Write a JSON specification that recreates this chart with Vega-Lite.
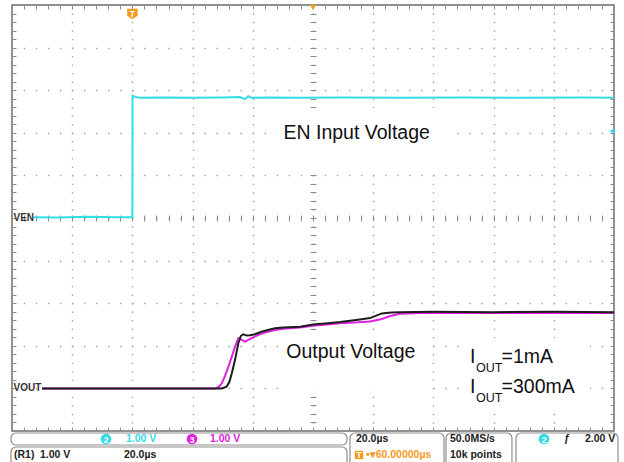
{
  "$schema": "https://vega.github.io/schema/vega-lite/v6.json",
  "width": 602,
  "height": 426,
  "autosize": "none",
  "padding": {"left": 12, "top": 5, "right": 10, "bottom": 31},
  "background": "white",
  "config": {
    "view": {"stroke": "#6e6e6e", "strokeWidth": 1.5},
    "axis": {"labels": false, "title": null, "domain": false, "ticks": false, "grid": false},
    "text": {"font": "Liberation Sans"}
  },
  "datasets": {
    "trace": [
      {"ch": "CH2", "t": -32.9, "v": 0.02}, {"ch": "CH2", "t": -25, "v": 0.01}, {"ch": "CH2", "t": -15, "v": 0.03},
      {"ch": "CH2", "t": -5, "v": 0.02}, {"ch": "CH2", "t": 0, "v": 0.02}, {"ch": "CH2", "t": 0.05, "v": 2.87},
      {"ch": "CH2", "t": 1, "v": 2.84}, {"ch": "CH2", "t": 3, "v": 2.82}, {"ch": "CH2", "t": 10, "v": 2.83},
      {"ch": "CH2", "t": 20, "v": 2.82}, {"ch": "CH2", "t": 30, "v": 2.83}, {"ch": "CH2", "t": 35.7, "v": 2.84},
      {"ch": "CH2", "t": 37.4, "v": 2.79}, {"ch": "CH2", "t": 38.5, "v": 2.86}, {"ch": "CH2", "t": 39.6, "v": 2.82},
      {"ch": "CH2", "t": 45, "v": 2.83}, {"ch": "CH2", "t": 55, "v": 2.82}, {"ch": "CH2", "t": 70, "v": 2.83},
      {"ch": "CH2", "t": 90, "v": 2.82}, {"ch": "CH2", "t": 110, "v": 2.83}, {"ch": "CH2", "t": 130, "v": 2.82},
      {"ch": "CH2", "t": 150, "v": 2.83}, {"ch": "CH2", "t": 160, "v": 2.82},

      {"ch": "CH3", "t": -30, "v": 0.0}, {"ch": "CH3", "t": -10, "v": 0.0}, {"ch": "CH3", "t": 10, "v": 0.0},
      {"ch": "CH3", "t": 27.5, "v": 0.0}, {"ch": "CH3", "t": 28.8, "v": 0.04}, {"ch": "CH3", "t": 29.7, "v": 0.12},
      {"ch": "CH3", "t": 30.8, "v": 0.3}, {"ch": "CH3", "t": 31.9, "v": 0.51}, {"ch": "CH3", "t": 33.0, "v": 0.74},
      {"ch": "CH3", "t": 34.1, "v": 0.98}, {"ch": "CH3", "t": 35.2, "v": 1.18}, {"ch": "CH3", "t": 36.3, "v": 1.14},
      {"ch": "CH3", "t": 37.4, "v": 1.10}, {"ch": "CH3", "t": 38.5, "v": 1.14}, {"ch": "CH3", "t": 39.6, "v": 1.18},
      {"ch": "CH3", "t": 41.7, "v": 1.25}, {"ch": "CH3", "t": 44, "v": 1.31}, {"ch": "CH3", "t": 47.4, "v": 1.37},
      {"ch": "CH3", "t": 50, "v": 1.40}, {"ch": "CH3", "t": 55.7, "v": 1.43}, {"ch": "CH3", "t": 60, "v": 1.47},
      {"ch": "CH3", "t": 69, "v": 1.53}, {"ch": "CH3", "t": 75, "v": 1.55}, {"ch": "CH3", "t": 78.9, "v": 1.57},
      {"ch": "CH3", "t": 82.9, "v": 1.63}, {"ch": "CH3", "t": 85.6, "v": 1.70}, {"ch": "CH3", "t": 88.9, "v": 1.75},
      {"ch": "CH3", "t": 95, "v": 1.77}, {"ch": "CH3", "t": 110, "v": 1.77}, {"ch": "CH3", "t": 130, "v": 1.77},
      {"ch": "CH3", "t": 160, "v": 1.77},

      {"ch": "R1", "t": -30, "v": 0.0}, {"ch": "R1", "t": -10, "v": 0.0}, {"ch": "R1", "t": 10, "v": 0.0},
      {"ch": "R1", "t": 29.7, "v": 0.0}, {"ch": "R1", "t": 31.3, "v": 0.04}, {"ch": "R1", "t": 32.2, "v": 0.15},
      {"ch": "R1", "t": 33.0, "v": 0.35}, {"ch": "R1", "t": 34.1, "v": 0.67}, {"ch": "R1", "t": 35.2, "v": 1.06},
      {"ch": "R1", "t": 36.0, "v": 1.23}, {"ch": "R1", "t": 36.8, "v": 1.27}, {"ch": "R1", "t": 38.0, "v": 1.24},
      {"ch": "R1", "t": 39.1, "v": 1.25}, {"ch": "R1", "t": 40.7, "v": 1.27}, {"ch": "R1", "t": 42.9, "v": 1.33},
      {"ch": "R1", "t": 45, "v": 1.37}, {"ch": "R1", "t": 47.4, "v": 1.41}, {"ch": "R1", "t": 50, "v": 1.43},
      {"ch": "R1", "t": 55.7, "v": 1.45}, {"ch": "R1", "t": 60, "v": 1.50}, {"ch": "R1", "t": 65, "v": 1.53},
      {"ch": "R1", "t": 69, "v": 1.56}, {"ch": "R1", "t": 75.6, "v": 1.62}, {"ch": "R1", "t": 78.9, "v": 1.65},
      {"ch": "R1", "t": 82.9, "v": 1.76}, {"ch": "R1", "t": 86, "v": 1.78}, {"ch": "R1", "t": 88.9, "v": 1.79},
      {"ch": "R1", "t": 100, "v": 1.80}, {"ch": "R1", "t": 120, "v": 1.79}, {"ch": "R1", "t": 140, "v": 1.80},
      {"ch": "R1", "t": 160, "v": 1.79}
    ],
    "ann": [
      {"t": 50.2, "d": 1.866, "txt": "EN Input Voltage", "kind": "main"},
      {"t": 51.13, "d": -3.293, "txt": "Output Voltage", "kind": "main"},
      {"t": 112.16, "d": -3.411, "txt": "I", "kind": "main"},
      {"t": 114.15, "d": -3.608, "txt": "OUT", "kind": "sub"},
      {"t": 122.66, "d": -3.411, "txt": "=1mA", "kind": "main"},
      {"t": 112.16, "d": -4.115, "txt": "I", "kind": "main"},
      {"t": 114.15, "d": -4.312, "txt": "OUT", "kind": "sub"},
      {"t": 122.66, "d": -4.115, "txt": "=300mA", "kind": "main"},
      {"t": -40, "d": 0.0, "txt": "VEN", "kind": "lab"},
      {"t": -40, "d": -4.0, "txt": "VOUT", "kind": "lab"}
    ],
    "annbg": [
      {"t": 48.04, "t2": 106.18, "d": 2.58, "d2": 1.08},
      {"t": 49.04, "t2": 98.87, "d": -2.63, "d2": -4.03},
      {"t": 110.83, "t2": 152.03, "d": -2.82, "d2": -4.5}
    ],
    "mk": [
      {"t": 0, "d": 4.79, "ch": "TRIG", "kind": "trig", "txt": "T"},
      {"t": 60, "d": 4.94, "ch": "TRIG", "kind": "exp", "txt": ""},
      {"t": 159.3, "d": 2.04, "ch": "CH2", "kind": "lvl", "txt": ""},
      {"t": -8.77, "d": -5.188, "ch": "CH2", "kind": "badge", "txt": "2"},
      {"t": 19.8, "d": -5.188, "ch": "CH3", "kind": "badge", "txt": "3"},
      {"t": 136.75, "d": -5.188, "ch": "CH2", "kind": "badge", "txt": "2"},
      {"t": 75.28, "d": -5.563, "ch": "TRIG", "kind": "sq", "txt": "T"}
    ],
    "stat": [
      {"t": -2.13, "d": -5.188, "txt": "1.00 V", "ch": "CH2"},
      {"t": 25.78, "d": -5.188, "txt": "1.00 V", "ch": "CH3"},
      {"t": -39.34, "d": -5.563, "txt": "(R1)", "ch": "TXT"},
      {"t": -30.7, "d": -5.563, "txt": "1.00 V", "ch": "TXT"},
      {"t": -2.79, "d": -5.563, "txt": "20.0µs", "ch": "TXT"},
      {"t": 74.29, "d": -5.188, "txt": "20.0µs", "ch": "TXT"},
      {"t": 77.6, "d": -5.563, "txt": "•▾60.00000µs", "ch": "TRIG"},
      {"t": 105.52, "d": -5.188, "txt": "50.0MS/s", "ch": "TXT"},
      {"t": 105.52, "d": -5.563, "txt": "10k points", "ch": "TXT"},
      {"t": 143.39, "d": -5.188, "txt": "ƒ", "ch": "TXT"},
      {"t": 150.37, "d": -5.188, "txt": "2.00 V", "ch": "TXT"}
    ],
    "box": [
      {"t": -40.33, "t2": 71.3, "d": -5.047, "d2": -5.329},
      {"t": -40.33, "t2": 71.3, "d": -5.376, "d2": -5.95},
      {"t": 72.29, "t2": 103.52, "d": -5.047, "d2": -5.95},
      {"t": 104.19, "t2": 126.1, "d": -5.047, "d2": -5.95},
      {"t": 127.44, "t2": 161.33, "d": -5.047, "d2": -5.95}
    ]
  },
  "resolve": {"scale": {"y": "independent"}, "axis": {"x": "independent", "y": "independent"}},
  "layer": [
    {
      "data": {"values": [{}]},
      "mark": {"type": "point", "opacity": 0},
      "encoding": {
        "x": {"datum": 0, "type": "quantitative", "scale": {"domain": [-40, 160], "nice": false, "zero": false},
          "axis": {"values": [-20, 0, 20, 40, 60, 80, 100, 120, 140], "grid": true, "gridColor": "#a3a3a3", "gridWidth": 1.4, "gridDash": [1.4, 7.12], "gridDashOffset": 0.7, "labels": false, "ticks": false, "domain": false, "title": null}},
        "y": {"datum": 0, "type": "quantitative", "scale": {"domain": [-5, 5], "nice": false, "zero": false},
          "axis": {"values": [-4, -3, -2, -1, 0, 1, 2, 3, 4], "grid": true, "gridColor": "#a3a3a3", "gridWidth": 1.4, "gridDash": [1.4, 10.64], "gridDashOffset": 0.7, "labels": false, "ticks": false, "domain": false, "title": null}}
      }
    },
    {
      "data": {"values": [{}]},
      "mark": {"type": "point", "opacity": 0},
      "encoding": {
        "x": {"datum": 0, "type": "quantitative", "scale": {"domain": [-40, 160], "nice": false, "zero": false},
          "axis": {"orient": "bottom", "offset": -4, "values": [-36,-32,-28,-24,-20,-16,-12,-8,-4,0,4,8,12,16,20,24,28,32,36,40,44,48,52,56,60,64,68,72,76,80,84,88,92,96,100,104,108,112,116,120,124,128,132,136,140,144,148,152,156], "ticks": true, "tickSize": 4, "tickColor": "#8c8c8c", "tickWidth": 1, "labels": false, "domain": false, "grid": false, "title": null}},
        "y": {"datum": 0, "type": "quantitative", "scale": {"domain": [-5, 5], "nice": false, "zero": false},
          "axis": {"orient": "left", "offset": -4, "values": [-4.8,-4.6,-4.4,-4.2,-4,-3.8,-3.6,-3.4,-3.2,-3,-2.8,-2.6,-2.4,-2.2,-2,-1.8,-1.6,-1.4,-1.2,-1,-0.8,-0.6,-0.4,-0.2,0,0.2,0.4,0.6,0.8,1,1.2,1.4,1.6,1.8,2,2.2,2.4,2.6,2.8,3,3.2,3.4,3.6,3.8,4,4.2,4.4,4.6,4.8], "ticks": true, "tickSize": 4, "tickColor": "#8c8c8c", "tickWidth": 1, "labels": false, "domain": false, "grid": false, "title": null}}
      }
    },
    {
      "data": {"values": [{}]},
      "mark": {"type": "point", "opacity": 0},
      "encoding": {
        "x": {"datum": 0, "type": "quantitative", "scale": {"domain": [-40, 160], "nice": false, "zero": false},
          "axis": {"orient": "top", "offset": -4, "values": [-36,-32,-28,-24,-20,-16,-12,-8,-4,0,4,8,12,16,20,24,28,32,36,40,44,48,52,56,60,64,68,72,76,80,84,88,92,96,100,104,108,112,116,120,124,128,132,136,140,144,148,152,156], "ticks": true, "tickSize": 4, "tickColor": "#8c8c8c", "tickWidth": 1, "labels": false, "domain": false, "grid": false, "title": null}},
        "y": {"datum": 0, "type": "quantitative", "scale": {"domain": [-5, 5], "nice": false, "zero": false},
          "axis": {"orient": "right", "offset": -4, "values": [-4.8,-4.6,-4.4,-4.2,-4,-3.8,-3.6,-3.4,-3.2,-3,-2.8,-2.6,-2.4,-2.2,-2,-1.8,-1.6,-1.4,-1.2,-1,-0.8,-0.6,-0.4,-0.2,0,0.2,0.4,0.6,0.8,1,1.2,1.4,1.6,1.8,2,2.2,2.4,2.6,2.8,3,3.2,3.4,3.6,3.8,4,4.2,4.4,4.6,4.8], "ticks": true, "tickSize": 4, "tickColor": "#8c8c8c", "tickWidth": 1, "labels": false, "domain": false, "grid": false, "title": null}}
      }
    },
    {
      "data": {"values": [{}]},
      "mark": {"type": "point", "opacity": 0},
      "encoding": {
        "x": {"datum": 0, "type": "quantitative", "scale": {"domain": [-40, 160], "nice": false, "zero": false},
          "axis": {"orient": "bottom", "offset": -216, "values": [-36,-32,-28,-24,-20,-16,-12,-8,-4,0,4,8,12,16,20,24,28,32,36,40,44,48,52,56,60,64,68,72,76,80,84,88,92,96,100,104,108,112,116,120,124,128,132,136,140,144,148,152,156], "ticks": true, "tickSize": 6, "tickColor": "#8c8c8c", "tickWidth": 1, "labels": false, "domain": false, "grid": false, "title": null}},
        "y": {"datum": 0, "type": "quantitative", "scale": {"domain": [-5, 5], "nice": false, "zero": false},
          "axis": {"orient": "left", "offset": -304, "values": [-4.8,-4.6,-4.4,-4.2,-4,-3.8,-3.6,-3.4,-3.2,-3,-2.8,-2.6,-2.4,-2.2,-2,-1.8,-1.6,-1.4,-1.2,-1,-0.8,-0.6,-0.4,-0.2,0,0.2,0.4,0.6,0.8,1,1.2,1.4,1.6,1.8,2,2.2,2.4,2.6,2.8,3,3.2,3.4,3.6,3.8,4,4.2,4.4,4.6,4.8], "ticks": true, "tickSize": 6, "tickColor": "#8c8c8c", "tickWidth": 1, "labels": false, "domain": false, "grid": false, "title": null}}
      }
    },
    {
      "data": {"name": "annbg"},
      "mark": {"type": "rect", "fill": "white", "strokeWidth": 0},
      "encoding": {
        "x": {"field": "t", "type": "quantitative", "scale": {"domain": [-40, 160], "nice": false, "zero": false}, "axis": null},
        "x2": {"field": "t2"},
        "y": {"field": "d", "type": "quantitative", "scale": {"domain": [-5, 5], "nice": false, "zero": false}, "axis": null},
        "y2": {"field": "d2"}
      }
    },
    {
      "data": {"name": "box"},
      "mark": {"type": "rect", "fill": "white", "stroke": "#8f8f8f", "strokeWidth": 1.2, "cornerRadius": 5},
      "encoding": {
        "x": {"field": "t", "type": "quantitative", "scale": {"domain": [-40, 160], "nice": false, "zero": false}, "axis": null},
        "x2": {"field": "t2"},
        "y": {"field": "d", "type": "quantitative", "scale": {"domain": [-5, 5], "nice": false, "zero": false}, "axis": null},
        "y2": {"field": "d2"}
      }
    },
    {
      "data": {"name": "stat"},
      "mark": {"type": "text", "align": "left", "baseline": "middle", "fontSize": 10.5, "fontWeight": "bold", "font": "Liberation Sans"},
      "encoding": {
        "x": {"field": "t", "type": "quantitative", "scale": {"domain": [-40, 160], "nice": false, "zero": false}, "axis": null},
        "y": {"field": "d", "type": "quantitative", "scale": {"domain": [-5, 5], "nice": false, "zero": false}, "axis": null},
        "text": {"field": "txt"},
        "color": {"field": "ch", "type": "nominal", "legend": null, "scale": {"domain": ["CH2", "CH3", "R1", "TRIG", "TXT"], "range": ["#33dde6", "#e022e0", "#1c1c1c", "#f39b1f", "#222222"]}}
      }
    },
    {
      "data": {"name": "trace"},
      "transform": [{"filter": "datum.ch === 'CH3'"}],
      "mark": {"type": "line", "strokeWidth": 2},
      "encoding": {
        "x": {"field": "t", "type": "quantitative", "scale": {"domain": [-40, 160], "nice": false, "zero": false}, "axis": null},
        "y": {"field": "v", "type": "quantitative", "scale": {"domain": [-1, 9], "nice": false, "zero": false}, "axis": null},
        "color": {"field": "ch", "type": "nominal", "legend": null, "scale": {"domain": ["CH2", "CH3", "R1", "TRIG", "TXT"], "range": ["#33dde6", "#e022e0", "#1c1c1c", "#f39b1f", "#222222"]}}
      }
    },
    {
      "data": {"name": "trace"},
      "transform": [{"filter": "datum.ch === 'R1'"}],
      "mark": {"type": "line", "strokeWidth": 2},
      "encoding": {
        "x": {"field": "t", "type": "quantitative", "scale": {"domain": [-40, 160], "nice": false, "zero": false}, "axis": null},
        "y": {"field": "v", "type": "quantitative", "scale": {"domain": [-1, 9], "nice": false, "zero": false}, "axis": null},
        "color": {"field": "ch", "type": "nominal", "legend": null, "scale": {"domain": ["CH2", "CH3", "R1", "TRIG", "TXT"], "range": ["#33dde6", "#e022e0", "#1c1c1c", "#f39b1f", "#222222"]}}
      }
    },
    {
      "data": {"name": "trace"},
      "transform": [{"filter": "datum.ch === 'CH2'"}],
      "mark": {"type": "line", "strokeWidth": 2},
      "encoding": {
        "x": {"field": "t", "type": "quantitative", "scale": {"domain": [-40, 160], "nice": false, "zero": false}, "axis": null},
        "y": {"field": "v", "type": "quantitative", "scale": {"domain": [-5, 5], "nice": false, "zero": false}, "axis": null},
        "color": {"field": "ch", "type": "nominal", "legend": null, "scale": {"domain": ["CH2", "CH3", "R1", "TRIG", "TXT"], "range": ["#33dde6", "#e022e0", "#1c1c1c", "#f39b1f", "#222222"]}}
      }
    },
    {
      "data": {"name": "ann"},
      "transform": [{"filter": "datum.kind === 'main'"}],
      "mark": {"type": "text", "align": "left", "baseline": "alphabetic", "fontSize": 19.5, "font": "Liberation Sans", "color": "#111111"},
      "encoding": {
        "x": {"field": "t", "type": "quantitative", "scale": {"domain": [-40, 160], "nice": false, "zero": false}, "axis": null},
        "y": {"field": "d", "type": "quantitative", "scale": {"domain": [-5, 5], "nice": false, "zero": false}, "axis": null},
        "text": {"field": "txt"}
      }
    },
    {
      "data": {"name": "ann"},
      "transform": [{"filter": "datum.kind === 'sub'"}],
      "mark": {"type": "text", "align": "left", "baseline": "alphabetic", "fontSize": 12.5, "font": "Liberation Sans", "color": "#111111"},
      "encoding": {
        "x": {"field": "t", "type": "quantitative", "scale": {"domain": [-40, 160], "nice": false, "zero": false}, "axis": null},
        "y": {"field": "d", "type": "quantitative", "scale": {"domain": [-5, 5], "nice": false, "zero": false}, "axis": null},
        "text": {"field": "txt"}
      }
    },
    {
      "data": {"name": "ann"},
      "transform": [{"filter": "datum.kind === 'lab'"}],
      "mark": {"type": "text", "align": "left", "baseline": "middle", "dx": 1.5, "fontSize": 10, "fontWeight": "bold", "font": "Liberation Sans", "color": "#333333"},
      "encoding": {
        "x": {"field": "t", "type": "quantitative", "scale": {"domain": [-40, 160], "nice": false, "zero": false}, "axis": null},
        "y": {"field": "d", "type": "quantitative", "scale": {"domain": [-5, 5], "nice": false, "zero": false}, "axis": null},
        "text": {"field": "txt"}
      }
    },
    {
      "data": {"name": "mk"},
      "transform": [{"filter": "datum.kind === 'trig'"}],
      "mark": {"type": "point", "filled": true, "opacity": 1, "size": 110, "shape": "M-1,-1L1,-1L1,0.35L0,1L-1,0.35Z"},
      "encoding": {
        "x": {"field": "t", "type": "quantitative", "scale": {"domain": [-40, 160], "nice": false, "zero": false}, "axis": null},
        "y": {"field": "d", "type": "quantitative", "scale": {"domain": [-5, 5], "nice": false, "zero": false}, "axis": null},
        "color": {"field": "ch", "type": "nominal", "legend": null, "scale": {"domain": ["CH2", "CH3", "R1", "TRIG", "TXT"], "range": ["#33dde6", "#e022e0", "#1c1c1c", "#f39b1f", "#222222"]}}
      }
    },
    {
      "data": {"name": "mk"},
      "transform": [{"filter": "datum.kind === 'exp'"}],
      "mark": {"type": "point", "filled": true, "opacity": 1, "size": 40, "shape": "triangle-down"},
      "encoding": {
        "x": {"field": "t", "type": "quantitative", "scale": {"domain": [-40, 160], "nice": false, "zero": false}, "axis": null},
        "y": {"field": "d", "type": "quantitative", "scale": {"domain": [-5, 5], "nice": false, "zero": false}, "axis": null},
        "color": {"field": "ch", "type": "nominal", "legend": null, "scale": {"domain": ["CH2", "CH3", "R1", "TRIG", "TXT"], "range": ["#33dde6", "#e022e0", "#1c1c1c", "#f39b1f", "#222222"]}}
      }
    },
    {
      "data": {"name": "mk"},
      "transform": [{"filter": "datum.kind === 'lvl'"}],
      "mark": {"type": "point", "filled": true, "opacity": 1, "size": 35, "shape": "triangle-left"},
      "encoding": {
        "x": {"field": "t", "type": "quantitative", "scale": {"domain": [-40, 160], "nice": false, "zero": false}, "axis": null},
        "y": {"field": "d", "type": "quantitative", "scale": {"domain": [-5, 5], "nice": false, "zero": false}, "axis": null},
        "color": {"field": "ch", "type": "nominal", "legend": null, "scale": {"domain": ["CH2", "CH3", "R1", "TRIG", "TXT"], "range": ["#33dde6", "#e022e0", "#1c1c1c", "#f39b1f", "#222222"]}}
      }
    },
    {
      "data": {"name": "mk"},
      "transform": [{"filter": "datum.kind === 'badge'"}],
      "mark": {"type": "point", "filled": true, "opacity": 1, "size": 115, "shape": "circle"},
      "encoding": {
        "x": {"field": "t", "type": "quantitative", "scale": {"domain": [-40, 160], "nice": false, "zero": false}, "axis": null},
        "y": {"field": "d", "type": "quantitative", "scale": {"domain": [-5, 5], "nice": false, "zero": false}, "axis": null},
        "color": {"field": "ch", "type": "nominal", "legend": null, "scale": {"domain": ["CH2", "CH3", "R1", "TRIG", "TXT"], "range": ["#33dde6", "#e022e0", "#1c1c1c", "#f39b1f", "#222222"]}}
      }
    },
    {
      "data": {"name": "mk"},
      "transform": [{"filter": "datum.kind === 'sq'"}],
      "mark": {"type": "point", "filled": true, "opacity": 1, "size": 70, "shape": "square"},
      "encoding": {
        "x": {"field": "t", "type": "quantitative", "scale": {"domain": [-40, 160], "nice": false, "zero": false}, "axis": null},
        "y": {"field": "d", "type": "quantitative", "scale": {"domain": [-5, 5], "nice": false, "zero": false}, "axis": null},
        "color": {"field": "ch", "type": "nominal", "legend": null, "scale": {"domain": ["CH2", "CH3", "R1", "TRIG", "TXT"], "range": ["#33dde6", "#e022e0", "#1c1c1c", "#f39b1f", "#222222"]}}
      }
    },
    {
      "data": {"name": "mk"},
      "mark": {"type": "text", "align": "center", "baseline": "middle", "dy": 0.5, "fontSize": 8.5, "fontWeight": "bold", "font": "Liberation Sans", "color": "white"},
      "encoding": {
        "x": {"field": "t", "type": "quantitative", "scale": {"domain": [-40, 160], "nice": false, "zero": false}, "axis": null},
        "y": {"field": "d", "type": "quantitative", "scale": {"domain": [-5, 5], "nice": false, "zero": false}, "axis": null},
        "text": {"field": "txt"}
      }
    }
  ]
}
